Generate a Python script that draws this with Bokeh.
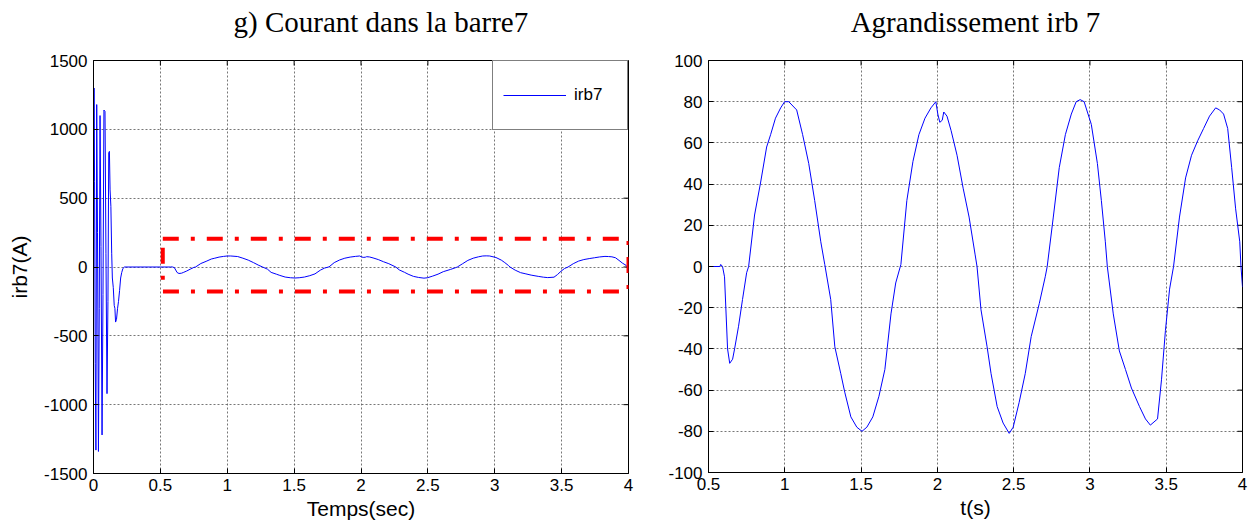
import math
from bokeh.plotting import figure
from bokeh.layouts import row
from bokeh.models import (Range1d, FixedTicker, Legend, LegendItem,
                          ColumnDataSource)
from bokeh.embed import file_html
from bokeh.resources import INLINE

# ---- bar-7 current: start-up transient (0 .. 0.23 s) ----
t_transient = [0.0, 0.004, 0.008, 0.013, 0.018, 0.024, 0.030, 0.037, 0.043, 0.049,
               0.056, 0.064, 0.071, 0.078, 0.086, 0.093, 0.101, 0.108, 0.114, 0.119,
               0.124, 0.130, 0.136, 0.141, 0.148, 0.155, 0.160, 0.165, 0.172, 0.180,
               0.187, 0.195, 0.203, 0.211, 0.220, 0.232]
i_transient = [0, 1300, 620, -700, -1330, 1180, 250, -1340, -300, 1100,
               150, -1220, -200, 1140, 1130, 100, -920, -250, 830, 840,
               560, 440, 100, -80, -150, -280, -300, -400, -380, -300,
               -250, -170, -80, -40, -10, 0]

# ---- bar-7 current after the fault (0.5 .. 4 s) ----
t_fault = [0.5, 0.575, 0.58, 0.592, 0.605, 0.625, 0.639, 0.658, 0.671, 0.697,
           0.723, 0.750, 0.763, 0.802, 0.842, 0.881, 0.907, 0.939, 0.973, 0.999,
           1.026, 1.078, 1.117, 1.157, 1.196, 1.236, 1.262, 1.301, 1.328, 1.367,
           1.393, 1.433, 1.472, 1.506, 1.538, 1.577, 1.617, 1.656, 1.696, 1.727,
           1.761, 1.800, 1.840, 1.879, 1.919, 1.958, 1.990, 2.003, 2.016, 2.032,
           2.042, 2.063, 2.090, 2.129, 2.169, 2.208, 2.247, 2.260, 2.286, 2.326,
           2.352, 2.392, 2.431, 2.471, 2.497, 2.536, 2.576, 2.615, 2.668, 2.707,
           2.720, 2.760, 2.799, 2.839, 2.878, 2.910, 2.936, 2.962, 3.009, 3.049,
           3.075, 3.101, 3.114, 3.153, 3.193, 3.233, 3.272, 3.325, 3.364, 3.396,
           3.443, 3.469, 3.495, 3.522, 3.548, 3.587, 3.627, 3.666, 3.706, 3.745,
           3.784, 3.824, 3.850, 3.876, 3.903, 3.929, 3.955, 3.982, 3.990, 4.0]
i_fault = [0, 0, 1, 0, -5, -40, -47, -45, -40, -29,
           -16, -3, 0, 25, 41, 58, 64, 72, 77, 80,
           80, 76, 64, 50, 32, 12, 1, -16, -39, -52,
           -61, -73, -78, -80, -78, -73, -63, -50, -23, -8,
           1, 32, 51, 64, 72, 77, 80, 74, 70, 71,
           75, 73, 66, 54, 38, 24, 6, 0, -21, -39,
           -52, -68, -76, -81, -78, -66, -52, -34, -18, -5,
           0, 24, 48, 64, 74, 80, 81, 80, 69, 50,
           32, 12, 0, -23, -41, -50, -59, -68, -74, -77,
           -74, -55, -31, -11, 0, 24, 43, 54, 61, 67,
           73, 77, 76, 74, 67, 48, 28, 12, 0, -10]

# zoomed region outlined on the full-range view
zoom_box_t = [0.518, 4.0]
zoom_box_i = [-178, 205]

# axis ticks and labels
full_t_ticks = [0, 0.5, 1, 1.5, 2, 2.5, 3, 3.5, 4]
full_t_labels = ["0", "0.5", "1", "1.5", "2", "2.5", "3", "3.5", "4"]
full_i_ticks = [-1500, -1000, -500, 0, 500, 1000, 1500]
full_i_labels = ["-1500", "-1000", "-500", "0", "500", "1000", "1500"]
zoom_t_ticks = [0.5, 1, 1.5, 2, 2.5, 3, 3.5, 4]
zoom_t_labels = ["0.5", "1", "1.5", "2", "2.5", "3", "3.5", "4"]
zoom_i_ticks = [-100, -80, -60, -40, -20, 0, 20, 40, 60, 80, 100]
zoom_i_labels = ["-100", "-80", "-60", "-40", "-20", "0", "20", "40", "60", "80", "100"]

SANS = "Liberation Sans"
SERIF = "Liberation Serif"


def set_title_gap(title):
    # lift the heading away from the box using padding under the text
    for pad in (dict(left=0, right=0, top=0, bottom=22), (0, 0, 22, 0)):
        try:
            title.padding = pad
            title.standoff = 2
            return
        except Exception:
            continue
    title.standoff = 4


def style(p, xt, xl, yt, yl, xlabel, ylabel, title, title_align, title_offset):
    xaxis = p.below[0]
    yaxis = p.left[0]

    p.title.text = title
    p.title.text_font = SERIF
    p.title.text_font_size = "29px"
    p.title.text_font_style = "normal"
    p.title.text_color = "black"
    p.title.align = title_align
    p.title.offset = title_offset
    set_title_gap(p.title)
    p.outline_line_color = "black"
    p.outline_line_width = 1
    p.background_fill_color = "white"
    p.border_fill_color = "white"

    for ax, ticks, labels in ((xaxis, xt, xl), (yaxis, yt, yl)):
        ax.ticker = FixedTicker(ticks=ticks)
        ax.major_label_overrides = {t: s for t, s in zip(ticks, labels)}
        ax.major_label_text_font = SANS
        ax.major_label_text_font_size = "17px"
        ax.major_label_text_color = "black"
        ax.major_tick_in = 5
        ax.major_tick_out = 0
        ax.minor_tick_in = 0
        ax.minor_tick_out = 0
        ax.axis_line_color = "black"
        ax.major_tick_line_color = "black"
        ax.axis_label_text_font = SANS
        ax.axis_label_text_font_size = "21px"
        ax.axis_label_text_font_style = "normal"
        ax.axis_label_text_color = "black"
    xaxis.axis_label = xlabel
    xaxis.major_label_standoff = 5
    xaxis.axis_label_standoff = 3
    yaxis.major_label_standoff = 6
    if ylabel:
        yaxis.axis_label = ylabel
        yaxis.axis_label_standoff = 10

    # inward tick marks on the top and right edges of the box
    x1 = p.x_range.end
    y1 = p.y_range.end
    p.ray(x=xt, y=[y1] * len(xt), length=5, length_units="screen",
          angle=-math.pi / 2, line_color="black", line_width=1)
    p.ray(x=[x1] * len(yt), y=yt, length=5, length_units="screen",
          angle=math.pi, line_color="black", line_width=1)

    for g in (p.xgrid[0], p.ygrid[0]):
        g.grid_line_color = "#555555"
        g.grid_line_dash = "2 2"
        g.grid_line_alpha = 0.8
        g.grid_line_width = 1
    p.xgrid[0].ticker = FixedTicker(ticks=xt)
    p.ygrid[0].ticker = FixedTicker(ticks=yt)


t_all = t_transient + t_fault
i_all = i_transient + i_fault
src = ColumnDataSource(dict(t=t_all, i=i_all))

# ---- full-range view ----
p1 = figure(frame_width=535, frame_height=413,
            x_range=Range1d(0, 4), y_range=Range1d(-1500, 1500),
            min_border_left=93, min_border_right=22, min_border_top=59,
            min_border_bottom=52, output_backend="svg", toolbar_location=None)
style(p1, full_t_ticks, full_t_labels, full_i_ticks, full_i_labels,
      "Temps(sec)", "irb7(A)", "g) Courant dans la barre7", "left", 140)

r1 = p1.line("t", "i", source=src, line_color="#0000ff", line_width=1)

bx0, bx1 = zoom_box_t
by0, by1 = zoom_box_i
p1.line([bx0, bx1, bx1, bx0, bx0], [by1, by1, by0, by0, by1],
        line_color="#ff0000", line_width=4, line_dash="16 12 4 12")

legend = Legend(items=[LegendItem(label="irb7", renderers=[r1])],
                location="top_right", margin=0, padding=10, spacing=0,
                glyph_width=63, glyph_height=48, label_height=48,
                label_width=43, label_standoff=8,
                label_text_font=SANS, label_text_font_size="17px",
                label_text_color="black",
                border_line_color="black", border_line_width=1,
                background_fill_color="white", background_fill_alpha=1)
p1.add_layout(legend)

# ---- zoomed view ----
p2 = figure(frame_width=534, frame_height=412,
            x_range=Range1d(0.5, 4), y_range=Range1d(-100, 100),
            min_border_left=58, min_border_right=10, min_border_top=60,
            min_border_bottom=52, output_backend="svg", toolbar_location=None)
style(p2, zoom_t_ticks, zoom_t_labels, zoom_i_ticks, zoom_i_labels,
      "t(s)", None, "Agrandissement irb 7", "center", 0)
p2.line("t", "i", source=src, line_color="#0000ff", line_width=1)

layout = row(p1, p2)
open("out.html", "w").write(file_html(layout, INLINE))
